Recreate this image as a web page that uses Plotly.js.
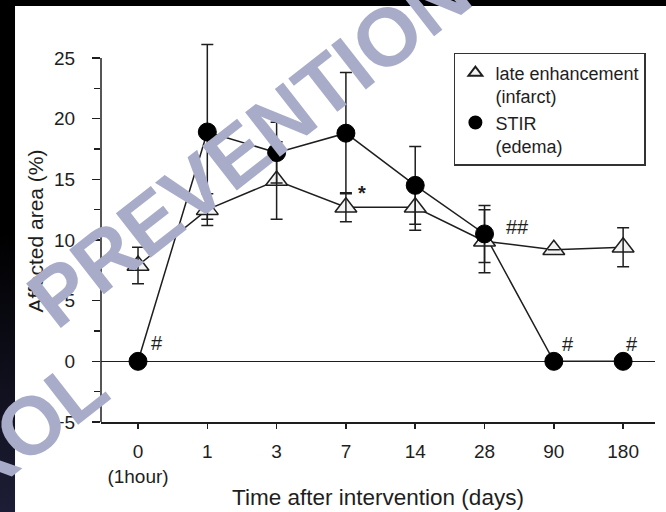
<!DOCTYPE html>
<html>
<head>
<meta charset="utf-8">
<script src="https://cdn.plot.ly/plotly-3.0.1.min.js"></script>
<style>
  html, body { margin: 0; padding: 0; width: 666px; height: 512px; overflow: hidden;
    background: linear-gradient(to bottom, #000 0%, #000 45%, #1d1d36 100%); }
  #chart { width: 666px; height: 512px; }
</style>
</head>
<body>
<div id="chart"></div>
<script>
// ---- data ----
const days = ["0<br>(1hour)", "1", "3", "7", "14", "28", "90", "180"];
const lateEnh = [7.9, 12.5, 14.9, 12.7, 12.7, 9.9, 9.2, 9.4];
const lateEnhErr = [1.5, 1.3, 3.2, 1.2, 1.9, 2.6, null, 1.6];
const stir = [0, 18.9, 17.2, 18.8, 14.5, 10.5, 0, 0];
const stirErr = [null, 7.2, 2.5, 5.0, 3.2, 2.35, null, null];
const lateMarks = ["", "", "", "*", "", "", "", ""];
const stirMarks = ["#", "", "", "", "", "##", "#", "#"];
const seriesNames = ["late enhancement<br>(infarct)", "STIR<br>(edema)"];
const yTickVals = [-5, 0, 5, 10, 15, 20, 25];

// ---- styles ----
const ink = "#1e1e1e";
const FONT = "Liberation Sans, Arial, sans-serif";
const WM = "rgb(168,172,201)";
const markShift = {
  stir: {0: [19, 18], 5: [33, 7], 6: [14, 17], 7: [9, 17]},
  late: {3: [16, 14]}
};

const traces = [
  {x: days, y: lateEnh, mode: "lines", line: {color: ink, width: 1.5}, showlegend: false, hoverinfo: "skip"},
  {x: days, y: stir, mode: "lines", line: {color: ink, width: 1.5}, showlegend: false, hoverinfo: "skip"},
  {x: days, y: lateEnh, mode: "markers", name: seriesNames[0], legendgroup: "le",
   marker: {symbol: "triangle-up", size: 19, color: "#f3f3f3", line: {color: ink, width: 1.5}}},
  {x: days, y: lateEnh, mode: "markers", showlegend: false, hoverinfo: "skip", legendgroup: "le",
   marker: {size: 1, color: "rgba(0,0,0,0)"},
   error_y: {type: "data", array: lateEnhErr, visible: true, color: ink, thickness: 1.5, width: 6}},
  {x: days, y: stir, mode: "markers", name: seriesNames[1], legendgroup: "stir",
   marker: {symbol: "circle", size: 18, color: "#000", line: {color: "#000", width: 1}},
   error_y: {type: "data", array: stirErr, visible: true, color: ink, thickness: 1.5, width: 6}}
];

const annotations = [];
stirMarks.forEach((m, i) => {
  if (!m) return;
  const s = markShift.stir[i] || [15, 15];
  annotations.push({x: i, y: stir[i], xref: "x", yref: "y", text: m, showarrow: false,
    xanchor: "center", yanchor: "middle",
    xshift: s[0], yshift: s[1], font: {family: FONT, size: 20, color: ink}});
});
lateMarks.forEach((m, i) => {
  if (!m) return;
  const s = markShift.late[i] || [15, 15];
  annotations.push({x: i, y: lateEnh[i], xref: "x", yref: "y", text: m, showarrow: false,
    xanchor: "center", yanchor: "middle",
    xshift: s[0], yshift: s[1], font: {family: FONT, size: 20, weight: "bold", color: ink}});
});
// watermark text overlaid on the reference image
annotations.push({xref: "paper", yref: "paper", x: 0.267, y: 0.7277, xanchor: "center", yanchor: "middle",
  text: "PREVENTION", showarrow: false,
  textangle: -38, font: {family: FONT, size: 82, weight: "bold", color: WM}});
annotations.push({xref: "paper", yref: "paper", x: -0.298, y: -0.2016, xanchor: "center", yanchor: "middle",
  text: "CONTROL", showarrow: false,
  textangle: -38, font: {family: FONT, size: 82, weight: "bold", color: WM}});

const layout = {
  width: 666, height: 512,
  margin: {l: 101, r: 11, t: 40, b: 90, pad: 0},
  paper_bgcolor: "rgba(0,0,0,0)",
  plot_bgcolor: "#fff",
  font: {family: FONT, color: ink},
  showlegend: true,
  legend: {x: 0.637, y: 0.966, xanchor: "left", yanchor: "top", bgcolor: "#fff",
    bordercolor: "#333", borderwidth: 1.5, valign: "top", itemsizing: "constant",
    tracegroupgap: 0,
    font: {family: FONT, size: 18, color: ink}},
  xaxis: {
    type: "category", range: [-0.534, 7.46], showgrid: false, zeroline: false,
    showline: true, linecolor: ink, linewidth: 1.5,
    ticks: "outside", ticklen: 5, tickwidth: 1.5, tickcolor: ink,
    ticklabelstandoff: 7,
    tickfont: {family: FONT, size: 19, color: ink},
    title: {text: "Time after intervention (days)", font: {family: FONT, size: 22.5, color: ink}, standoff: 3},
    fixedrange: true
  },
  yaxis: {
    range: [-5, 26.48], showgrid: false, showline: false,
    zeroline: true, zerolinecolor: ink, zerolinewidth: 1.5,
    tickmode: "array", tickvals: yTickVals,
    ticks: "outside", ticklen: 8, tickwidth: 1.5, tickcolor: ink,
    ticklabelstandoff: 13,
    minor: {ticks: "outside", ticklen: 6, tickwidth: 1.5, tickcolor: ink, dtick: 2.5, tick0: 0, showgrid: false},
    tickfont: {family: FONT, size: 19, color: ink},
    title: {text: "Affected area (%)", font: {family: FONT, size: 21, color: ink}, standoff: 4},
    fixedrange: true
  },
  shapes: [
    {type: "rect", xref: "paper", yref: "paper", x0: -0.1552, x1: 1.05, y0: -0.3, y1: 1.089,
     fillcolor: "#fff", line: {width: 0}, layer: "below"},
    {type: "line", xref: "paper", yref: "y", x0: 0, x1: 0, y0: -5, y1: 25,
     line: {color: ink, width: 1.5}}
  ],
  annotations: annotations
};

Plotly.newPlot("chart", traces, layout, {displayModeBar: false, staticPlot: true});
</script>
</body>
</html>
